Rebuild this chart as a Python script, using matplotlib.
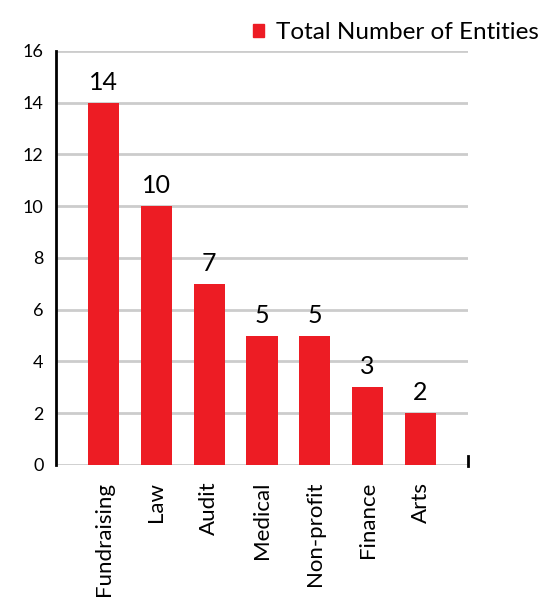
import matplotlib
matplotlib.use('Agg')
import matplotlib.pyplot as plt
from matplotlib.patches import Patch

categories = ['Fundraising', 'Law', 'Audit', 'Medical', 'Non-profit', 'Finance', 'Arts']
counts = [14, 10, 7, 5, 5, 3, 2]
yticks = [0, 2, 4, 6, 8, 10, 12, 14, 16]
series_name = 'Total Number of Entities'

RED = '#ED1C24'
GRID = '#CCCCCC'

plt.rcParams['font.family'] = ['Lato', 'DejaVu Sans']

fig = plt.figure(figsize=(5.47, 6.01), dpi=100)
ax = fig.add_axes([0.1024, 0.2263, 0.7532, 0.6889])

x = list(range(len(categories)))
ax.bar(x, counts, width=0.59, color=RED, zorder=3)
for xi, v in zip(x, counts):
    ax.text(xi, v + 0.35, str(v), ha='center', va='bottom', fontsize=18, color='black')

ax.set_xlim(-0.9, len(categories) - 0.1)
ax.set_ylim(0, 16)
ax.set_yticks(yticks)
ax.set_yticklabels([str(t) for t in yticks], fontsize=13)
ax.set_xticks(x)
ax.set_xticklabels(categories, rotation=90, fontsize=16)

for t in yticks:
    ax.axhline(t, color=GRID, lw=2, zorder=1)

for s in ['top', 'right', 'bottom']:
    ax.spines[s].set_visible(False)
ax.spines['left'].set_linewidth(2)
ax.spines['left'].set_color('black')
ax.tick_params(axis='y', length=0, pad=9)
ax.tick_params(axis='x', length=0, pad=12)

# small end mark at the right of the baseline
ax.plot([1, 1], [-0.05, 0.35], transform=ax.get_yaxis_transform(), color='black',
        lw=2, clip_on=False)

fig.legend(handles=[Patch(color=RED, label=series_name)], loc='upper right',
           bbox_to_anchor=(1.025, 1.0), frameon=False, fontsize=17.5,
           handlelength=0.45, handleheight=0.45, handletextpad=0.5)

fig.savefig('out.png', dpi=100)
